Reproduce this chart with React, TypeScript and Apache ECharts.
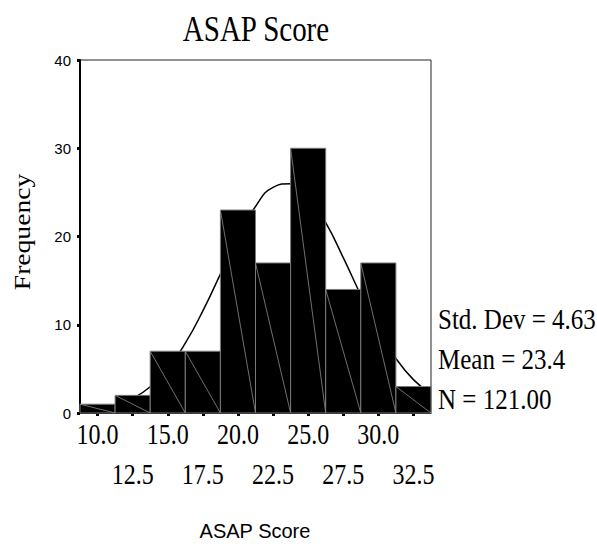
import React, { useEffect, useRef } from "react";
import * as echarts from "echarts";

const TITLE = "ASAP Score";
const X_NAME = "ASAP Score";
const Y_NAME = "Frequency";
const BIN_WIDTH = 2.5;
const X_MIN = 8.75;
const X_MAX = 33.75;
const BIN_CENTERS = [10, 12.5, 15, 17.5, 20, 22.5, 25, 27.5, 30, 32.5];
const FREQUENCIES = [1, 2, 7, 7, 23, 17, 30, 14, 17, 3];
const X_LABELS_ROW1 = [10, 15, 20, 25, 30];
const X_LABELS_ROW2 = [12.5, 17.5, 22.5, 27.5, 32.5];
const Y_TICKS = [0, 10, 20, 30, 40];
const CURVE_X = [8.75, 10, 11.25, 12.5, 13.75, 15, 16.25, 17.5, 18.75, 20, 21.25, 22.5, 23.75, 25, 26.25, 27.5, 28.75, 30, 31.25, 32.5, 33.75];
const CURVE_Y = [0.17, 0.4, 0.83, 1.63, 2.97, 5.02, 7.91, 11.57, 15.74, 19.9, 23.4, 25.57, 25.99, 24.55, 21.56, 17.61, 13.37, 9.43, 6.19, 3.78, 2.14];
const STATS = ["Std. Dev = 4.63", "Mean = 23.4", "N = 121.00"];

const SERIF = "Liberation Serif";
const SANS = "Liberation Sans";

export default function App() {
  const ref = useRef<HTMLDivElement>(null);
  useEffect(() => {
    document.body.style.margin = "0";
    const chart = echarts.init(ref.current!, null, { renderer: "svg" });
    const option: any = {
      animation: false,
      backgroundColor: "#fff",
      grid: {
        left: 80,
        right: 166,
        top: 60,
        bottom: 131,
        show: true,
        borderColor: "#222",
        borderWidth: 1,
        backgroundColor: "transparent",
      },
      xAxis: {
        type: "value",
        min: X_MIN,
        max: X_MAX,
        axisLine: { show: true, lineStyle: { color: "#000", width: 1 } },
        axisTick: {
          show: true,
          customValues: [...X_LABELS_ROW1, ...X_LABELS_ROW2],
          length: 3,
          lineStyle: { color: "#000", width: 3 },
        },
        axisLabel: { show: false },
        splitLine: { show: false },
      },
      yAxis: {
        type: "value",
        min: 0,
        max: 40,
        interval: 10,
        axisLine: { show: true, lineStyle: { color: "#000", width: 2 } },
        axisTick: { show: true, length: 3, lineStyle: { color: "#000", width: 3 } },
        axisLabel: {
          show: true,
          fontFamily: SANS,
          fontSize: 15,
          color: "#000",
          margin: 9,
          customValues: Y_TICKS,
        },
        splitLine: { show: false },
      },
      series: [
        {
          type: "line",
          data: CURVE_X.map((x, i) => [x, CURVE_Y[i]]),
          smooth: true,
          symbol: "none",
          lineStyle: { color: "#000", width: 1.5 },
          z: 1,
        },
        {
          type: "custom",
          data: BIN_CENTERS.map((c, i) => [c, FREQUENCIES[i]]),
          encode: { x: 0, y: 1 },
          z: 2,
          renderItem: (params: any, api: any) => {
            const c = api.value(0);
            const f = api.value(1);
            const p0 = api.coord([c - BIN_WIDTH / 2, f]);
            const p1 = api.coord([c + BIN_WIDTH / 2, 0]);
            return {
              type: "group",
              children: [
                {
                  type: "rect",
                  shape: { x: p0[0], y: p0[1], width: p1[0] - p0[0], height: p1[1] - p0[1] },
                  style: { fill: "#000", stroke: "#7a7a7a", lineWidth: 1 },
                },
                {
                  type: "line",
                  shape: { x1: p0[0], y1: p0[1], x2: p1[0], y2: p1[1] },
                  style: { stroke: "#8c8c8c", lineWidth: 0.8 },
                },
              ],
            };
          },
        },
      ],
    };
    chart.setOption(option);

    const texts: any[] = [];
    const serifText = (text: string, x: number, y: number, size: number, align: string, extra: any = {}) => ({
      type: "text",
      x,
      y,
      scaleY: 1.2,
      style: { text, fontFamily: SERIF, fontSize: size, fill: "#000", align, verticalAlign: "middle" },
      ...extra,
    });
    texts.push(serifText(TITLE, 256, 29, 29, "center"));
    texts.push({
      type: "text",
      x: 22,
      y: 232,
      rotation: Math.PI / 2,
      scaleX: 1.2,
      style: { text: Y_NAME, fontFamily: SERIF, fontSize: 23, fill: "#000", align: "center", verticalAlign: "middle" },
    });
    X_LABELS_ROW1.forEach((v) => {
      const px = chart.convertToPixel({ xAxisIndex: 0 }, v) as number;
      texts.push(serifText(v.toFixed(1), px, 434, 24, "center"));
    });
    X_LABELS_ROW2.forEach((v) => {
      const px = chart.convertToPixel({ xAxisIndex: 0 }, v) as number;
      texts.push(serifText(v.toFixed(1), px, 474, 24, "center"));
    });
    const statY = [319, 359, 399];
    STATS.forEach((s, i) => texts.push(serifText(s, 438, statY[i], 25, "left")));
    texts.push({
      type: "text",
      x: 255,
      y: 531,
      style: { text: X_NAME, fontFamily: SANS, fontSize: 20, fill: "#000", align: "center", verticalAlign: "middle" },
    });
    chart.setOption({ graphic: { elements: texts } });

    return () => chart.dispose();
  }, []);
  return <div ref={ref} style={{ width: 597, height: 544 }} />;
}
